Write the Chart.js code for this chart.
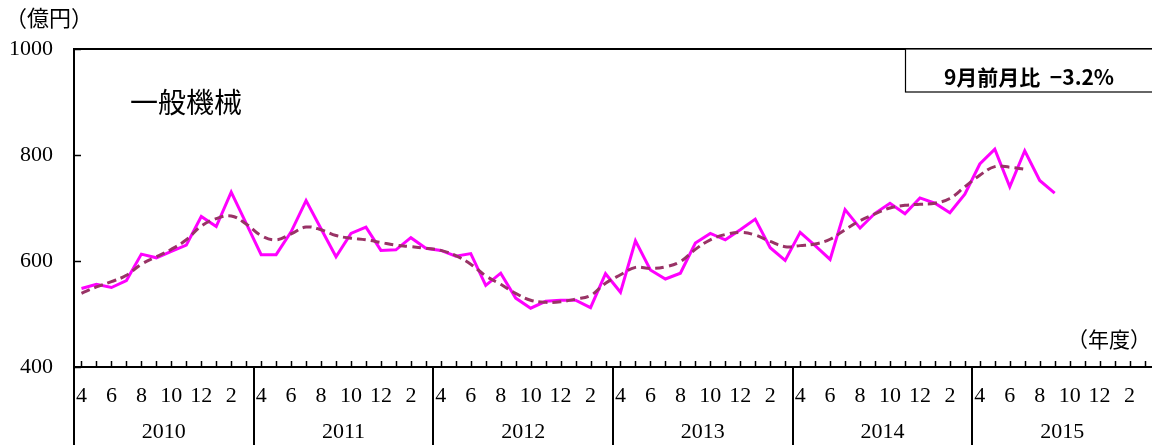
<!DOCTYPE html>
<html lang="ja">
<head>
<meta charset="utf-8">
<title>一般機械</title>
<script src="https://cdn.jsdelivr.net/npm/chart.js@4.4.1/dist/chart.umd.min.js"></script>
<style>
  html, body { margin: 0; padding: 0; background: #fff; }
  #chart { display: block; }
</style>
</head>
<body>
<canvas id="chart" width="1152" height="445"></canvas>
<script>
// ── Data ────────────────────────────────────────────────────
const fiscalYears = ['2010', '2011', '2012', '2013', '2014', '2015'];
const monthNames  = ['4', '5', '6', '7', '8', '9', '10', '11', '12', '1', '2', '3'];

// monthly value (億円), Apr 2010 .. Sep 2015
const monthly = [
  548, 556, 550, 563, 613, 606, 618, 630, 684, 665, 730, 671,
  612, 612, 655, 714, 661, 608, 652, 664, 620, 621, 644, 624,
  620, 609, 614, 554, 577, 530, 511, 524, 526, 526, 512, 576,
  541, 638, 583, 566, 577, 634, 652, 640, 659, 679, 625, 601,
  654, 629, 603, 697, 662, 690, 709, 689, 719, 709, 691, 726,
  783, 811, 740, 808, 752, 728
];

// trend (dashed), Apr 2010 .. Jul 2015
const trend = [
  539, 551, 561, 573, 594, 608, 622, 640, 666, 680, 685, 670,
  648, 640, 651, 664, 659, 648, 643, 640, 635, 630, 627, 624,
  620, 610, 594, 572, 556, 539, 526, 522, 523, 528, 535, 558,
  574, 588, 586, 589, 599, 622, 640, 650, 654, 649, 637, 627,
  629, 632, 641, 659, 676, 689, 700, 705, 707, 709, 718, 740,
  762, 778, 777, 773
];

const yTicks   = [400, 600, 800, 1000];
const boxText  = '9月前月比  −3.2%';
const seriesTitle = '一般機械';

// ── Helpers ─────────────────────────────────────────────────
const labels = [];
fiscalYears.forEach(y => monthNames.forEach(m => labels.push(y + '-' + m)));
const pad = arr => labels.map((_, i) => (i < arr.length ? arr[i] : null));

const SERIF = '"Liberation Serif", "DejaVu Serif", serif';
const CJK   = '"Noto Sans CJK JP", "Noto Sans", sans-serif';

// ── Decorations: frame, inner ticks, year row, captions ─────
const decor = {
  id: 'decor',
  afterDraw(chart) {
    const { ctx, chartArea: a, scales: { x, y } } = chart;
    const slot = x.getPixelForValue(1) - x.getPixelForValue(0);
    const H = chart.height;
    ctx.save();
    ctx.strokeStyle = '#000';

    // top frame line
    ctx.lineWidth = 2;
    ctx.beginPath(); ctx.moveTo(a.left, a.top); ctx.lineTo(chart.width, a.top); ctx.stroke();

    // inner ticks on x axis (one per month)
    ctx.lineWidth = 1.5;
    labels.forEach((_, i) => {
      const px = Math.round(x.getPixelForValue(i)) + 0.5;
      ctx.beginPath(); ctx.moveTo(px, a.bottom); ctx.lineTo(px, a.bottom - 6); ctx.stroke();
    });

    // inner ticks on y axis
    yTicks.forEach(v => {
      const py = Math.round(y.getPixelForValue(v)) + 0.5;
      ctx.beginPath(); ctx.moveTo(a.left, py); ctx.lineTo(a.left + 7, py); ctx.stroke();
    });

    // year separators + labels
    ctx.lineWidth = 2;
    ctx.fillStyle = '#000';
    ctx.font = '22px ' + SERIF;
    ctx.textAlign = 'center';
    ctx.textBaseline = 'middle';
    fiscalYears.forEach((yr, k) => {
      const x0 = x.getPixelForValue(k * 12) - slot / 2;
      const x1 = x0 + slot * 12;
      ctx.beginPath(); ctx.moveTo(Math.round(x0), k === 0 ? a.top : a.bottom); ctx.lineTo(Math.round(x0), H); ctx.stroke();
      ctx.fillText(yr, (x0 + x1) / 2, 432);
    });

    // unit captions
    ctx.font = '22px ' + CJK;
    ctx.textAlign = 'left';
    ctx.fillText('（億円）', 5, 18);
    ctx.font = '21px ' + CJK;
    ctx.fillText('（年度）', 1067, 339);

    // series title
    ctx.font = '28px ' + CJK;
    ctx.fillText(seriesTitle, 130, 102);

    // month-on-month box
    ctx.fillStyle = '#fff';
    ctx.fillRect(905, a.top, 260, 43);
    ctx.lineWidth = 1.2;
    ctx.strokeRect(905.5, a.top, 260, 43);
    ctx.fillStyle = '#000';
    ctx.font = 'bold 21px ' + CJK;
    ctx.textAlign = 'center';
    ctx.fillText(boxText, 1029, 77);
    ctx.restore();
  }
};

// ── Chart ───────────────────────────────────────────────────
new Chart(document.getElementById('chart'), {
  type: 'line',
  data: {
    labels,
    datasets: [
      {
        label: '月次',
        data: pad(monthly),
        borderColor: '#FF00FF',
        borderWidth: 3,
        pointRadius: 0,
        tension: 0,
        order: 2
      },
      {
        label: '傾向',
        data: pad(trend),
        borderColor: '#993366',
        borderWidth: 3,
        borderDash: [9, 5],
        pointRadius: 0,
        tension: 0.4,
        order: 1
      }
    ]
  },
  options: {
    responsive: false,
    animation: false,
    devicePixelRatio: 1,
    layout: { padding: { top: 49, right: 0, bottom: 0, left: 0 } },
    plugins: { legend: { display: false }, tooltip: { enabled: false } },
    scales: {
      x: {
        offset: true,
        afterFit: s => { s.height = 78; s.paddingLeft = 0; s.paddingRight = 0; },
        grid: { display: false, drawTicks: false },
        border: { color: '#000', width: 2 },
        ticks: {
          autoSkip: false, maxRotation: 0, minRotation: 0,
          padding: 16,
          color: '#000',
          font: { family: SERIF, size: 22 },
          callback: (v, i) => (i % 2 === 0 ? monthNames[i % 12] : '')
        }
      },
      y: {
        min: 400, max: 1000,
        afterFit: s => { s.width = 74; s.paddingTop = 0; s.paddingBottom = 0; },
        afterBuildTicks: s => { s.ticks = yTicks.map(v => ({ value: v })); },
        grid: { display: false, drawTicks: false },
        border: { color: '#000', width: 2 },
        ticks: {
          padding: 21,
          color: '#000',
          font: { family: SERIF, size: 22 },
          callback: v => String(v)
        }
      }
    }
  },
  plugins: [decor]
});
</script>
</body>
</html>
